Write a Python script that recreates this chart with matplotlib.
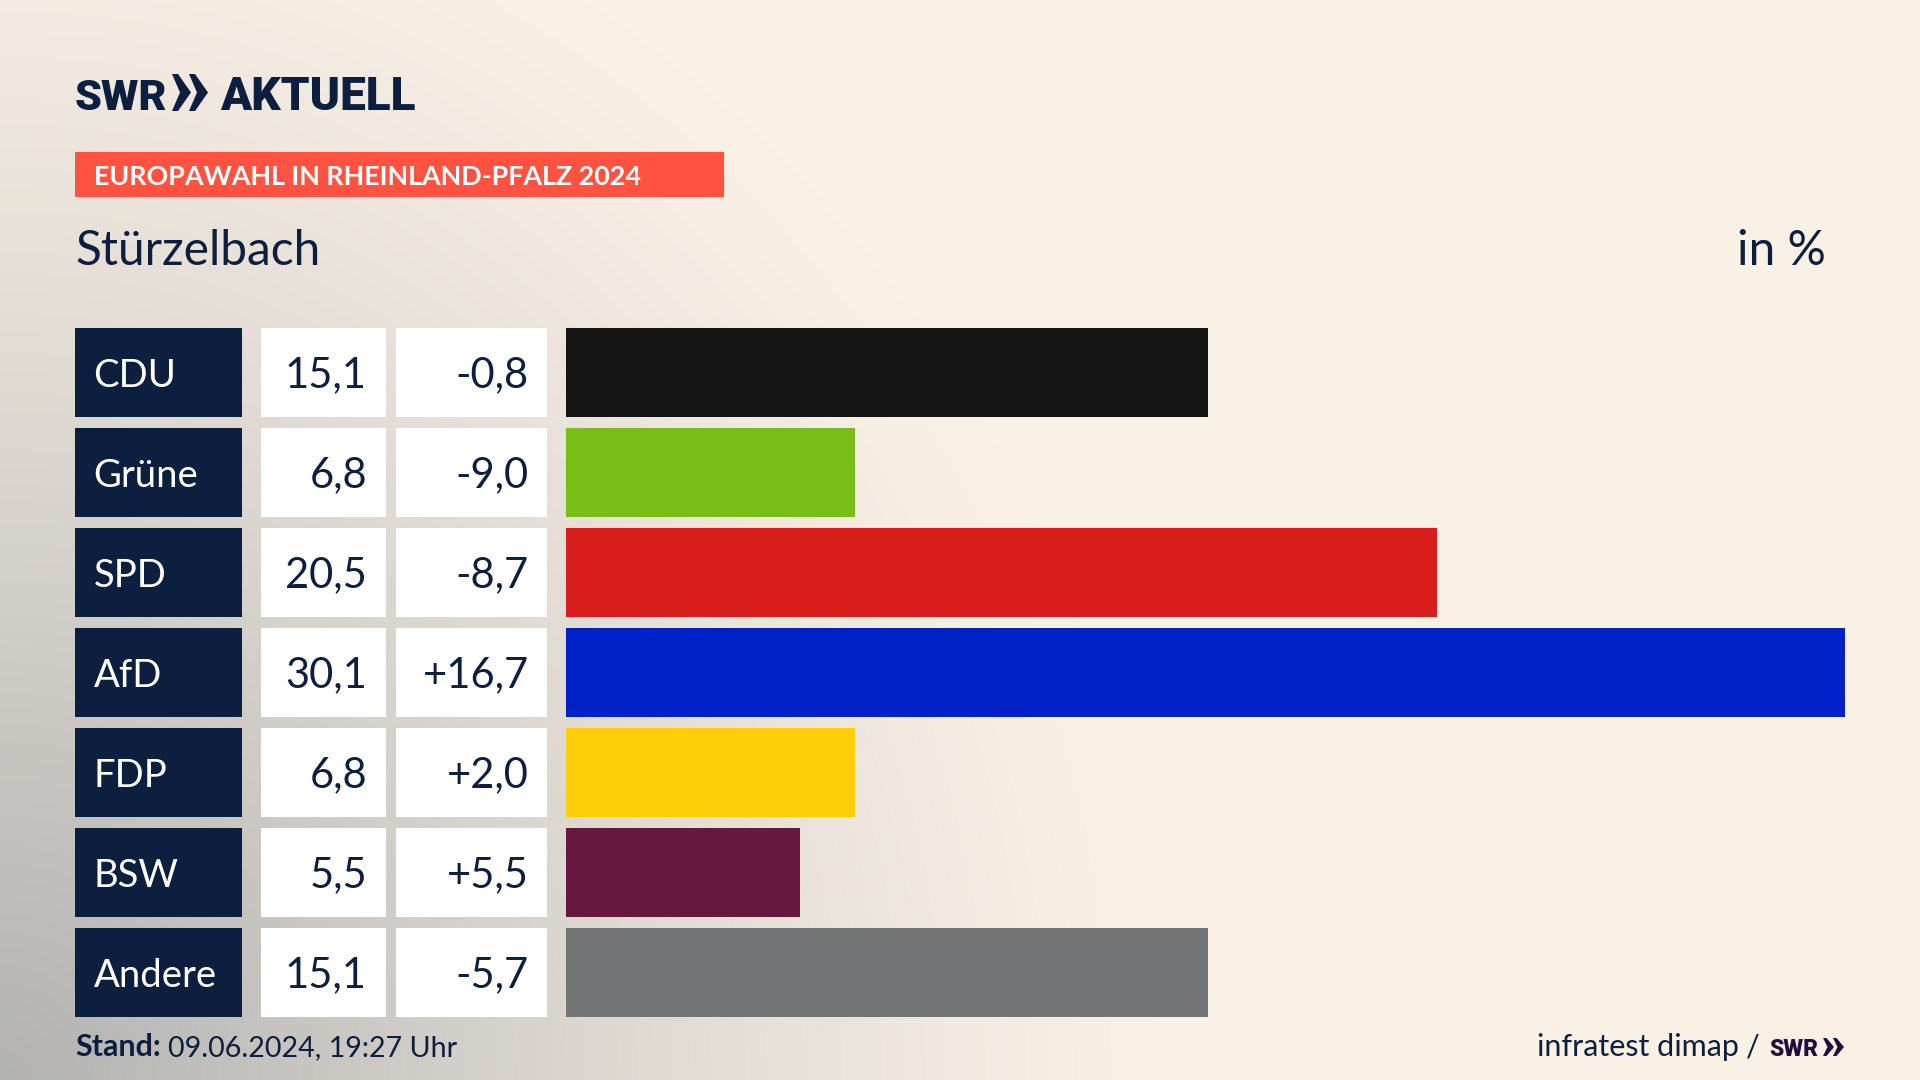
import numpy as np
import matplotlib
matplotlib.use("Agg")
import matplotlib.pyplot as plt
from matplotlib.patches import Polygon

# --- data ---
parties = ["CDU", "Grüne", "SPD", "AfD", "FDP", "BSW", "Andere"]
shares = [15.1, 6.8, 20.5, 30.1, 6.8, 5.5, 15.1]
changes = [-0.8, -9.0, -8.7, 16.7, 2.0, 5.5, -5.7]
colors = ["#141414", "#7ABD18", "#D81F1D", "#0021C8", "#FFCE0A", "#66183E", "#727476"]
title_text = "EUROPAWAHL IN RHEINLAND-PFALZ 2024"
place = "Stürzelbach"
unit_text = "in %"

NAVY = "#0C1F3F"
FONT = "Lato"
LOGO = "Roboto"
W, H = 1920, 1080

fig = plt.figure(figsize=(W / 100, H / 100), dpi=100)
px = fig.add_axes([0, 0, 1, 1])
px.set_xlim(0, W)
px.set_ylim(H, 0)
px.axis("off")

# background: cream with grey glow from the lower-left corner
yy, xx = np.mgrid[0:H:4, 0:W:4]
d = np.sqrt((xx / 1150.0) ** 2 + ((H - yy) / 1250.0) ** 2)
t = np.clip(1 - d, 0, 1) ** 1.2
cream = np.array([250, 241, 230]) / 255
grey = np.array([178, 178, 177]) / 255
img = cream[None, None, :] * (1 - t[..., None]) + grey[None, None, :] * t[..., None]
px.imshow(img, extent=(0, W, H, 0), aspect="auto", zorder=0, interpolation="bilinear")
px.set_xlim(0, W)
px.set_ylim(H, 0)


def fmt(v, signed=False):
    s = f"{abs(v):.1f}".replace(".", ",")
    if signed:
        s = ("+" if v > 0 else "-") + s
    return s


ROW0, PITCH, ROWH = 328, 100, 88.5
for i, (p, s, c) in enumerate(zip(parties, shares, changes)):
    top = ROW0 + i * PITCH
    mid = top + ROWH / 2
    px.barh(mid, 167, left=75, height=ROWH, color=NAVY, zorder=1)
    px.barh(mid, 125, left=261, height=ROWH, color="white", zorder=1)
    px.barh(mid, 151, left=396, height=ROWH, color="white", zorder=1)
    base = top + 59
    px.text(93.5, base, p, color="white", fontsize=27.5, family=FONT, va="baseline", ha="left", zorder=2)
    px.text(367, base, fmt(s), color=NAVY, fontsize=30, family=FONT, va="baseline", ha="right", zorder=2)
    px.text(529, base, fmt(c, True), color=NAVY, fontsize=30, family=FONT, va="baseline", ha="right", zorder=2)

# party bars on their own value axis
ax = fig.add_axes([566 / W, 1 - (ROW0 + 6 * PITCH + ROWH) / H, (1845 - 566) / W, (6 * PITCH + ROWH) / H])
ax.patch.set_alpha(0)
ax.barh(range(len(parties)), shares, height=0.885, color=colors)
ax.set_xlim(0, max(shares))
ax.set_ylim(6.4425, -0.4425)
ax.axis("off")

# header
px.text(75, 110, "SWR", color=NAVY, fontsize=31, family=LOGO, weight=900, va="baseline", zorder=2)
for x0 in (172, 189):
    px.add_patch(Polygon([[x0, 74], [x0 + 6, 74], [x0 + 19, 92.5], [x0 + 6, 111], [x0, 111], [x0 + 8, 92.5]],
                         closed=True, color=NAVY, lw=0, zorder=2))
px.text(220, 110, "AKTUELL", color=NAVY, fontsize=33, family=LOGO, weight=900, va="baseline", zorder=2)

px.barh(174.5, 649, left=75, height=45, color="#FF5240", zorder=1)
px.text(94, 185, title_text, color="white", fontsize=19.4, family=FONT, weight="bold", va="baseline", zorder=2)
px.text(75, 265, place, color=NAVY, fontsize=34.5, family=FONT, va="baseline", zorder=2)
px.text(1826, 265, unit_text, color=NAVY, fontsize=34.5, family=FONT, va="baseline", ha="right", zorder=2)

# footer
px.text(75, 1056, "Stand:", color=NAVY, fontsize=22, family=FONT, weight="bold", va="baseline", zorder=2)
px.text(168, 1056, "09.06.2024, 19:27 Uhr", color=NAVY, fontsize=20.6, family=FONT, va="baseline", zorder=2)
px.text(1739, 1056, "infratest dimap", color=NAVY, fontsize=22, family=FONT, va="baseline", ha="right", zorder=2)
px.text(1760, 1056, "/", color=NAVY, fontsize=22, family=FONT, va="baseline", ha="right", zorder=2)
DARK = "#1F0F3F"
px.text(1769, 1056, "SWR", color=DARK, fontsize=16.5, family=LOGO, weight=900, va="baseline", zorder=2)
for x0 in (1823, 1833):
    px.add_patch(Polygon([[x0, 1038], [x0 + 3.5, 1038], [x0 + 11, 1047], [x0 + 3.5, 1056], [x0, 1056], [x0 + 4.5, 1047]],
                         closed=True, color=DARK, lw=0, zorder=2))

fig.savefig("out.png", dpi=100)
